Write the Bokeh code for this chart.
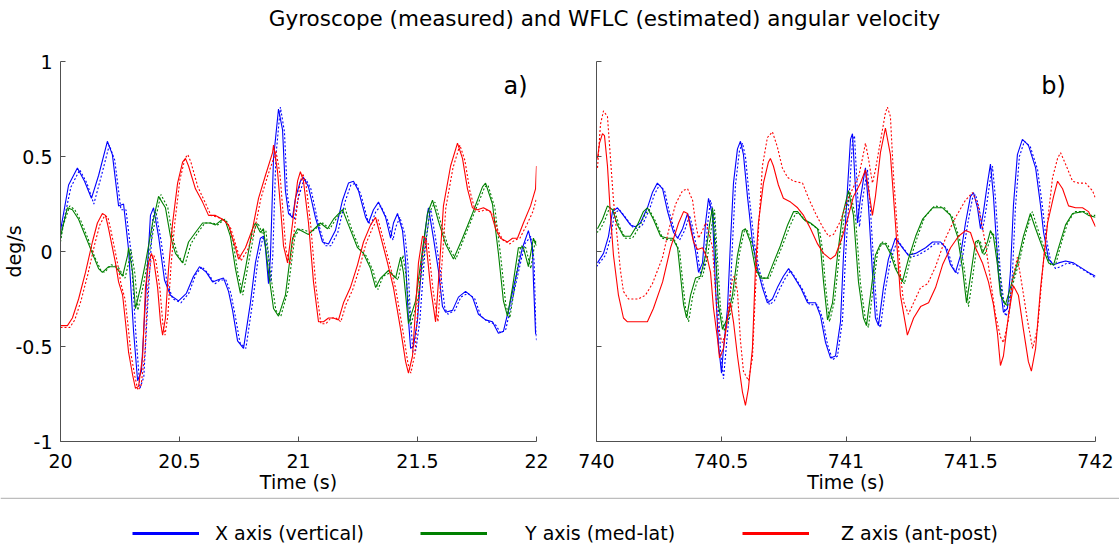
import math
from bokeh.plotting import figure
from bokeh.models import Range1d, FixedTicker, Label, Legend, LegendItem, Span, ColumnDataSource
from bokeh.layouts import column, row
from bokeh.embed import file_html
from bokeh.resources import INLINE
from bokeh.core.properties import value

FONT = "DejaVu Sans"

TITLE = "Gyroscope (measured) and WFLC (estimated) angular velocity"
SERIES_NAMES = ["X axis (vertical)", "Y axis (med-lat)", "Z axis (ant-post)"]
SERIES_COLORS = ["#0000ff", "#008000", "#ff0000"]

Y_TICKS = [-1, -0.5, 0, 0.5, 1]
Y_TICK_LABELS = ["-1", "-0.5", "0", "0.5", "1"]
A_X_TICKS = [20, 20.5, 21, 21.5, 22]
A_X_TICK_LABELS = ["20", "20.5", "21", "21.5", "22"]
B_X_TICKS = [740, 740.5, 741, 741.5, 742]
B_X_TICK_LABELS = ["740", "740.5", "741", "741.5", "742"]

# ---------------- panel a) : (time s, angular velocity) ----------------
A_X_MEAS = [(20.000,0.11),(20.034,0.35),(20.071,0.44),(20.101,0.37),(20.130,0.28),(20.160,0.40),(20.197,0.58),(20.218,0.51),(20.244,0.24),(20.265,0.25),(20.286,0.01),(20.307,-0.42),(20.324,-0.68),(20.340,-0.63),(20.357,-0.26),(20.378,0.19),(20.391,0.23),(20.412,0.08),(20.437,-0.15),(20.462,-0.23),(20.496,-0.26),(20.529,-0.22),(20.559,-0.13),(20.584,-0.08),(20.613,-0.11),(20.639,-0.16),(20.660,-0.15),(20.685,-0.14),(20.706,-0.21),(20.723,-0.31),(20.744,-0.47),(20.769,-0.51),(20.798,-0.27),(20.819,-0.06),(20.840,0.07),(20.853,0.08),(20.861,0.02),(20.874,-0.17),(20.882,-0.03),(20.895,0.49),(20.916,0.75),(20.933,0.64),(20.945,0.32),(20.958,0.20),(20.975,0.18),(20.987,0.28),(21.008,0.37),(21.021,0.39),(21.042,0.34),(21.071,0.18),(21.101,0.05),(21.126,0.04),(21.155,0.11),(21.185,0.27),(21.210,0.36),(21.231,0.37),(21.252,0.32),(21.282,0.18),(21.294,0.15),(21.315,0.22),(21.336,0.26),(21.366,0.18),(21.387,0.07),(21.399,0.15),(21.416,0.20),(21.437,0.11),(21.450,-0.05),(21.462,-0.36),(21.471,-0.51),(21.483,-0.50),(21.500,-0.36),(21.521,-0.01),(21.542,0.20),(21.546,0.23),(21.567,0.07),(21.588,-0.10),(21.605,-0.29),(21.618,-0.32),(21.647,-0.31),(21.672,-0.24),(21.702,-0.21),(21.731,-0.24),(21.756,-0.33),(21.786,-0.36),(21.815,-0.37),(21.840,-0.43),(21.861,-0.42),(21.882,-0.31),(21.912,-0.14),(21.941,0.02),(21.966,0.11),(21.983,0.02),(21.987,-0.15),(21.996,-0.43),(22.000,-0.44)]
A_X_EST = [(20.000,0.07),(20.012,0.15),(20.044,0.34),(20.081,0.43),(20.111,0.36),(20.140,0.25),(20.170,0.39),(20.205,0.56),(20.228,0.48),(20.254,0.22),(20.275,0.22),(20.296,0.00),(20.317,-0.44),(20.334,-0.72),(20.350,-0.66),(20.367,-0.27),(20.388,0.18),(20.401,0.21),(20.422,0.06),(20.447,-0.16),(20.472,-0.25),(20.506,-0.27),(20.539,-0.22),(20.569,-0.12),(20.594,-0.08),(20.623,-0.12),(20.649,-0.17),(20.670,-0.15),(20.695,-0.15),(20.716,-0.22),(20.733,-0.33),(20.754,-0.48),(20.779,-0.51),(20.808,-0.26),(20.829,-0.05),(20.850,0.07),(20.863,0.06),(20.871,0.00),(20.884,-0.16),(20.892,-0.02),(20.905,0.50),(20.924,0.76),(20.941,0.63),(20.953,0.30),(20.966,0.19),(20.983,0.17),(20.997,0.27),(21.018,0.36),(21.031,0.38),(21.052,0.33),(21.081,0.16),(21.111,0.03),(21.136,0.03),(21.165,0.10),(21.195,0.26),(21.220,0.35),(21.241,0.36),(21.262,0.30),(21.292,0.16),(21.304,0.14),(21.325,0.21),(21.346,0.24),(21.376,0.16),(21.397,0.06),(21.409,0.13),(21.426,0.18),(21.447,0.09),(21.460,-0.07),(21.472,-0.38),(21.481,-0.53),(21.493,-0.52),(21.510,-0.36),(21.531,0.00),(21.552,0.21),(21.556,0.22),(21.577,0.06),(21.598,-0.12),(21.615,-0.30),(21.628,-0.33),(21.657,-0.31),(21.682,-0.24),(21.712,-0.22),(21.741,-0.25),(21.766,-0.34),(21.796,-0.37),(21.825,-0.38),(21.850,-0.43),(21.871,-0.41),(21.892,-0.29),(21.922,-0.12),(21.951,0.04),(21.976,0.08),(21.990,-0.05),(21.996,-0.35),(22.000,-0.47)]
A_Y_MEAS = [(20.000,0.08),(20.029,0.23),(20.050,0.22),(20.076,0.17),(20.105,0.08),(20.134,-0.01),(20.160,-0.09),(20.176,-0.11),(20.202,-0.08),(20.231,-0.08),(20.261,-0.13),(20.282,-0.02),(20.286,0.02),(20.303,-0.11),(20.315,-0.30),(20.336,-0.19),(20.357,-0.06),(20.387,0.15),(20.412,0.29),(20.441,0.23),(20.462,0.08),(20.483,-0.01),(20.513,-0.06),(20.538,0.05),(20.567,0.10),(20.597,0.15),(20.630,0.15),(20.651,0.14),(20.681,0.17),(20.693,0.16),(20.714,0.08),(20.735,-0.09),(20.756,-0.22),(20.777,-0.09),(20.807,0.12),(20.819,0.15),(20.840,0.10),(20.853,0.12),(20.874,-0.11),(20.895,-0.30),(20.916,-0.34),(20.945,-0.23),(20.975,0.07),(20.996,0.12),(21.042,0.09),(21.092,0.15),(21.122,0.12),(21.147,0.17),(21.185,0.22),(21.210,0.14),(21.248,0.02),(21.273,-0.01),(21.303,-0.09),(21.324,-0.19),(21.345,-0.14),(21.378,-0.10),(21.408,-0.14),(21.429,-0.03),(21.441,-0.11),(21.462,-0.38),(21.492,-0.26),(21.521,0.01),(21.542,0.20),(21.563,0.27),(21.588,0.16),(21.618,0.04),(21.651,-0.04),(21.689,0.07),(21.731,0.20),(21.773,0.34),(21.786,0.36),(21.815,0.25),(21.840,-0.01),(21.861,-0.26),(21.878,-0.34),(21.899,-0.19),(21.924,0.02),(21.945,0.02),(21.966,-0.08),(21.987,0.07),(22.000,0.03)]
A_Y_EST = [(20.000,0.05),(20.012,0.14),(20.039,0.24),(20.060,0.22),(20.086,0.16),(20.115,0.07),(20.144,-0.03),(20.170,-0.10),(20.186,-0.11),(20.212,-0.07),(20.241,-0.08),(20.271,-0.14),(20.292,-0.03),(20.296,0.01),(20.313,-0.12),(20.325,-0.31),(20.346,-0.19),(20.367,-0.05),(20.397,0.16),(20.422,0.30),(20.451,0.23),(20.472,0.07),(20.493,-0.02),(20.523,-0.07),(20.548,0.04),(20.577,0.10),(20.607,0.15),(20.640,0.15),(20.661,0.14),(20.691,0.17),(20.703,0.15),(20.724,0.06),(20.745,-0.11),(20.766,-0.23),(20.787,-0.08),(20.817,0.12),(20.829,0.15),(20.850,0.09),(20.863,0.11),(20.884,-0.13),(20.905,-0.31),(20.926,-0.34),(20.955,-0.21),(20.985,0.08),(21.006,0.12),(21.052,0.10),(21.102,0.15),(21.132,0.12),(21.157,0.17),(21.195,0.23),(21.220,0.13),(21.258,0.01),(21.283,-0.02),(21.313,-0.10),(21.334,-0.20),(21.355,-0.13),(21.388,-0.11),(21.418,-0.15),(21.439,-0.02),(21.451,-0.12),(21.472,-0.39),(21.502,-0.25),(21.531,0.02),(21.552,0.21),(21.573,0.26),(21.598,0.15),(21.628,0.03),(21.661,-0.04),(21.699,0.08),(21.741,0.21),(21.783,0.34),(21.796,0.35),(21.825,0.23),(21.850,-0.03),(21.871,-0.28),(21.888,-0.35),(21.909,-0.18),(21.934,0.03),(21.955,0.02),(21.976,-0.09),(21.995,0.06),(22.000,0.04)]
A_Z_MEAS = [(20.000,-0.39),(20.029,-0.39),(20.050,-0.35),(20.076,-0.25),(20.105,-0.11),(20.134,0.05),(20.155,0.15),(20.176,0.20),(20.189,0.19),(20.202,0.12),(20.231,-0.06),(20.244,-0.16),(20.261,-0.23),(20.273,-0.37),(20.286,-0.53),(20.303,-0.65),(20.315,-0.72),(20.328,-0.71),(20.345,-0.55),(20.357,-0.19),(20.370,-0.06),(20.382,-0.01),(20.391,-0.04),(20.408,-0.19),(20.420,-0.37),(20.429,-0.44),(20.441,-0.35),(20.454,-0.09),(20.471,0.15),(20.492,0.36),(20.513,0.47),(20.525,0.49),(20.538,0.45),(20.567,0.33),(20.597,0.26),(20.622,0.19),(20.651,0.19),(20.681,0.17),(20.706,0.14),(20.735,0.02),(20.748,-0.04),(20.777,0.02),(20.807,0.12),(20.832,0.28),(20.861,0.40),(20.891,0.52),(20.895,0.56),(20.912,0.42),(20.924,0.24),(20.937,0.03),(20.954,-0.06),(20.975,0.15),(20.996,0.37),(21.008,0.42),(21.021,0.37),(21.042,0.15),(21.063,-0.16),(21.084,-0.37),(21.105,-0.37),(21.126,-0.35),(21.147,-0.35),(21.168,-0.36),(21.189,-0.27),(21.218,-0.19),(21.248,-0.07),(21.273,0.05),(21.303,0.14),(21.324,0.18),(21.345,0.08),(21.374,-0.06),(21.399,-0.19),(21.429,-0.41),(21.450,-0.58),(21.462,-0.64),(21.479,-0.55),(21.492,-0.30),(21.504,-0.06),(21.521,0.08),(21.534,0.07),(21.555,-0.19),(21.576,-0.37),(21.588,-0.16),(21.609,0.24),(21.639,0.45),(21.668,0.57),(21.689,0.49),(21.710,0.33),(21.731,0.23),(21.752,0.22),(21.777,0.23),(21.807,0.21),(21.828,0.12),(21.849,0.07),(21.878,0.05),(21.899,0.07),(21.920,0.07),(21.945,0.15),(21.975,0.24),(21.996,0.33),(22.000,0.45)]
A_Z_EST = [(20.000,-0.40),(20.039,-0.40),(20.060,-0.36),(20.086,-0.26),(20.115,-0.12),(20.144,0.04),(20.165,0.14),(20.186,0.19),(20.199,0.18),(20.212,0.11),(20.241,-0.07),(20.254,-0.17),(20.271,-0.25),(20.283,-0.38),(20.296,-0.54),(20.313,-0.66),(20.325,-0.73),(20.338,-0.71),(20.355,-0.53),(20.367,-0.18),(20.380,-0.05),(20.392,-0.02),(20.401,-0.05),(20.418,-0.20),(20.430,-0.38),(20.439,-0.44),(20.451,-0.34),(20.464,-0.08),(20.481,0.16),(20.502,0.38),(20.523,0.49),(20.535,0.51),(20.548,0.47),(20.577,0.34),(20.607,0.26),(20.632,0.19),(20.661,0.18),(20.691,0.16),(20.716,0.12),(20.745,0.00),(20.758,-0.05),(20.787,0.01),(20.817,0.12),(20.842,0.28),(20.871,0.40),(20.901,0.51),(20.905,0.53),(20.922,0.41),(20.934,0.22),(20.947,0.01),(20.964,-0.07),(20.985,0.14),(21.006,0.36),(21.018,0.41),(21.031,0.36),(21.052,0.13),(21.073,-0.18),(21.094,-0.38),(21.115,-0.38),(21.136,-0.35),(21.157,-0.35),(21.178,-0.37),(21.199,-0.28),(21.228,-0.20),(21.258,-0.08),(21.283,0.04),(21.313,0.13),(21.334,0.17),(21.355,0.07),(21.384,-0.07),(21.409,-0.20),(21.439,-0.42),(21.460,-0.59),(21.472,-0.64),(21.489,-0.54),(21.502,-0.29),(21.514,-0.07),(21.531,0.06),(21.544,0.05),(21.565,-0.20),(21.586,-0.37),(21.598,-0.15),(21.619,0.23),(21.649,0.44),(21.678,0.56),(21.699,0.48),(21.720,0.32),(21.741,0.22),(21.762,0.21),(21.787,0.22),(21.817,0.20),(21.838,0.11),(21.859,0.06),(21.888,0.04),(21.909,0.06),(21.930,0.07),(21.955,0.13),(21.985,0.21),(22.000,0.28)]

# ---------------- panel b) ----------------
B_X_MEAS = [(740.004,-0.06),(740.028,-0.01),(740.048,0.08),(740.064,0.21),(740.084,0.23),(740.108,0.19),(740.136,0.14),(740.156,0.13),(740.176,0.15),(740.204,0.23),(740.224,0.31),(740.244,0.36),(740.265,0.33),(740.285,0.21),(740.309,0.10),(740.325,0.07),(740.345,0.12),(740.365,0.20),(740.377,0.14),(740.397,0.00),(740.409,-0.11),(740.425,-0.06),(740.437,0.15),(740.449,0.28),(740.465,0.19),(740.477,-0.19),(740.489,-0.49),(740.501,-0.64),(740.509,-0.51),(740.525,-0.30),(740.537,0.05),(740.549,0.36),(740.565,0.54),(740.577,0.58),(740.589,0.51),(740.605,0.29),(740.625,0.05),(740.645,-0.09),(740.665,-0.19),(740.685,-0.27),(740.705,-0.25),(740.725,-0.19),(740.749,-0.13),(740.770,-0.09),(740.790,-0.13),(740.818,-0.19),(740.846,-0.27),(740.878,-0.27),(740.898,-0.34),(740.918,-0.48),(740.938,-0.56),(740.958,-0.55),(740.978,-0.37),(740.990,-0.02),(741.006,0.33),(741.018,0.59),(741.026,0.62),(741.038,0.33),(741.046,0.15),(741.058,0.28),(741.070,0.38),(741.078,0.44),(741.090,0.24),(741.106,-0.11),(741.118,-0.35),(741.130,-0.39),(741.150,-0.19),(741.170,-0.04),(741.198,0.07),(741.226,0.02),(741.250,-0.02),(741.279,-0.01),(741.319,0.02),(741.347,0.05),(741.379,0.05),(741.399,0.02),(741.419,-0.07),(741.439,-0.11),(741.459,-0.02),(741.479,0.15),(741.499,0.29),(741.511,0.31),(741.527,0.23),(741.539,0.12),(741.551,0.21),(741.567,0.36),(741.579,0.46),(741.591,0.29),(741.611,-0.11),(741.631,-0.32),(741.647,-0.30),(741.659,-0.11),(741.671,0.24),(741.687,0.51),(741.707,0.59),(741.731,0.56),(741.760,0.44),(741.780,0.24),(741.792,0.10),(741.812,-0.04),(741.832,-0.07),(741.852,-0.06),(741.880,-0.05),(741.912,-0.06),(741.948,-0.09),(741.972,-0.11),(742.000,-0.13)]
B_X_EST = [(740.000,-0.08),(740.012,-0.06),(740.036,-0.02),(740.056,0.07),(740.072,0.20),(740.092,0.22),(740.116,0.18),(740.144,0.13),(740.164,0.12),(740.184,0.14),(740.212,0.22),(740.232,0.30),(740.252,0.35),(740.273,0.32),(740.293,0.20),(740.317,0.09),(740.333,0.06),(740.353,0.11),(740.373,0.19),(740.385,0.13),(740.405,-0.01),(740.417,-0.12),(740.433,-0.07),(740.445,0.14),(740.457,0.27),(740.473,0.17),(740.485,-0.21),(740.497,-0.52),(740.509,-0.67),(740.517,-0.55),(740.533,-0.31),(740.545,0.04),(740.557,0.35),(740.573,0.53),(740.585,0.57),(740.597,0.50),(740.613,0.28),(740.633,0.04),(740.653,-0.10),(740.673,-0.20),(740.693,-0.28),(740.713,-0.26),(740.733,-0.20),(740.757,-0.14),(740.778,-0.10),(740.798,-0.14),(740.826,-0.20),(740.854,-0.28),(740.886,-0.28),(740.906,-0.35),(740.926,-0.49),(740.946,-0.57),(740.966,-0.55),(740.986,-0.36),(740.998,-0.03),(741.014,0.32),(741.026,0.58),(741.034,0.61),(741.046,0.31),(741.054,0.13),(741.066,0.27),(741.078,0.37),(741.086,0.43),(741.098,0.22),(741.114,-0.13),(741.126,-0.36),(741.138,-0.40),(741.158,-0.20),(741.178,-0.05),(741.206,0.06),(741.234,0.01),(741.258,-0.03),(741.287,-0.02),(741.327,0.01),(741.355,0.04),(741.387,0.04),(741.407,0.01),(741.427,-0.08),(741.447,-0.12),(741.467,-0.03),(741.487,0.14),(741.507,0.28),(741.519,0.30),(741.535,0.22),(741.547,0.11),(741.559,0.20),(741.575,0.35),(741.587,0.45),(741.599,0.28),(741.619,-0.12),(741.639,-0.34),(741.655,-0.31),(741.667,-0.12),(741.679,0.23),(741.695,0.50),(741.715,0.58),(741.739,0.55),(741.768,0.43),(741.788,0.23),(741.800,0.09),(741.820,-0.05),(741.840,-0.09),(741.860,-0.08),(741.888,-0.06),(741.920,-0.07),(741.956,-0.10),(741.980,-0.12),(742.000,-0.14)]
B_Y_MEAS = [(740.004,0.12),(740.024,0.17),(740.044,0.24),(740.064,0.22),(740.084,0.14),(740.108,0.08),(740.136,0.08),(740.164,0.14),(740.188,0.21),(740.204,0.23),(740.228,0.17),(740.257,0.08),(740.285,0.07),(740.305,0.07),(740.325,0.02),(740.337,-0.13),(740.349,-0.28),(740.361,-0.35),(740.377,-0.23),(740.397,-0.14),(740.417,-0.13),(740.437,-0.02),(740.453,0.14),(740.465,0.23),(740.477,-0.02),(740.489,-0.28),(740.505,-0.41),(740.525,-0.35),(740.545,-0.23),(740.565,-0.02),(740.585,0.11),(740.597,0.12),(740.617,0.05),(740.637,-0.09),(740.657,-0.14),(740.685,-0.14),(740.709,-0.06),(740.737,0.03),(740.766,0.14),(740.790,0.21),(740.806,0.21),(740.830,0.17),(740.858,0.15),(740.886,0.12),(740.898,0.02),(740.910,-0.16),(740.926,-0.36),(740.946,-0.27),(740.966,-0.02),(740.986,0.19),(741.010,0.32),(741.030,0.19),(741.050,-0.16),(741.070,-0.35),(741.082,-0.39),(741.098,-0.23),(741.118,-0.02),(741.138,0.04),(741.158,0.04),(741.178,-0.01),(741.198,-0.09),(741.226,-0.16),(741.250,-0.04),(741.279,0.08),(741.307,0.17),(741.347,0.23),(741.387,0.23),(741.419,0.19),(741.447,0.08),(741.467,-0.09),(741.483,-0.27),(741.499,-0.13),(741.519,0.05),(741.531,0.06),(741.547,-0.01),(741.567,0.05),(741.579,0.11),(741.591,0.08),(741.607,-0.07),(741.619,-0.23),(741.639,-0.28),(741.659,-0.19),(741.687,-0.06),(741.711,0.08),(741.739,0.20),(741.760,0.12),(741.788,0.02),(741.812,-0.06),(741.832,-0.07),(741.852,0.02),(741.880,0.14),(741.908,0.20),(741.948,0.21),(741.972,0.19),(742.000,0.18)]
B_Y_EST = [(740.000,0.10),(740.012,0.11),(740.032,0.16),(740.052,0.23),(740.072,0.22),(740.092,0.13),(740.116,0.07),(740.144,0.07),(740.172,0.13),(740.196,0.20),(740.212,0.22),(740.236,0.16),(740.265,0.07),(740.293,0.06),(740.313,0.06),(740.333,0.00),(740.345,-0.15),(740.357,-0.30),(740.369,-0.37),(740.385,-0.24),(740.405,-0.15),(740.425,-0.13),(740.445,-0.03),(740.461,0.13),(740.473,0.22),(740.485,-0.04),(740.497,-0.30),(740.513,-0.42),(740.533,-0.35),(740.553,-0.22),(740.573,-0.01),(740.593,0.11),(740.605,0.11),(740.625,0.04),(740.645,-0.10),(740.665,-0.14),(740.693,-0.14),(740.717,-0.06),(740.745,0.03),(740.774,0.13),(740.798,0.20),(740.814,0.20),(740.838,0.16),(740.866,0.14),(740.894,0.11),(740.906,0.01),(740.918,-0.18),(740.934,-0.37),(740.954,-0.26),(740.974,-0.01),(740.994,0.19),(741.018,0.31),(741.038,0.18),(741.058,-0.17),(741.078,-0.36),(741.090,-0.40),(741.106,-0.22),(741.126,-0.01),(741.146,0.05),(741.166,0.04),(741.186,-0.02),(741.206,-0.10),(741.234,-0.17),(741.258,-0.04),(741.287,0.08),(741.315,0.18),(741.355,0.24),(741.395,0.23),(741.427,0.18),(741.455,0.07),(741.475,-0.10),(741.491,-0.29),(741.507,-0.14),(741.527,0.05),(741.539,0.05),(741.555,-0.02),(741.575,0.05),(741.587,0.10),(741.599,0.07),(741.615,-0.09),(741.627,-0.25),(741.647,-0.29),(741.667,-0.18),(741.695,-0.05),(741.719,0.09),(741.747,0.21),(741.768,0.12),(741.796,0.01),(741.820,-0.07),(741.840,-0.07),(741.860,0.03),(741.888,0.15),(741.916,0.21),(741.956,0.21),(741.980,0.19),(742.000,0.19)]
B_Z_MEAS = [(740.004,0.49),(740.012,0.57),(740.024,0.62),(740.032,0.61),(740.044,0.45),(740.056,0.19),(740.068,-0.02),(740.088,-0.23),(740.108,-0.35),(740.124,-0.37),(740.204,-0.37),(740.228,-0.30),(740.265,-0.16),(740.297,0.02),(740.329,0.15),(740.349,0.21),(740.365,0.20),(740.377,0.12),(740.389,0.05),(740.405,0.01),(740.425,0.02),(740.445,-0.04),(740.457,-0.11),(740.469,-0.30),(740.485,-0.46),(740.493,-0.56),(740.509,-0.51),(740.525,-0.35),(740.537,-0.27),(740.549,-0.37),(740.565,-0.55),(740.585,-0.74),(740.597,-0.81),(740.609,-0.72),(740.625,-0.51),(740.637,-0.09),(740.649,0.15),(740.669,0.36),(740.689,0.47),(740.697,0.49),(740.709,0.45),(740.729,0.35),(740.749,0.28),(740.778,0.26),(740.806,0.23),(740.830,0.19),(740.858,0.12),(740.886,0.04),(740.910,-0.01),(740.938,-0.04),(740.958,-0.02),(740.986,0.08),(741.010,0.19),(741.030,0.29),(741.058,0.36),(741.078,0.43),(741.090,0.33),(741.106,0.19),(741.118,0.29),(741.138,0.52),(741.158,0.65),(741.178,0.51),(741.198,0.15),(741.218,-0.23),(741.246,-0.44),(741.271,-0.35),(741.299,-0.29),(741.331,-0.27),(741.359,-0.19),(741.387,-0.07),(741.419,0.02),(741.451,0.08),(741.479,0.11),(741.499,0.10),(741.519,0.02),(741.547,-0.06),(741.571,-0.16),(741.591,-0.28),(741.607,-0.43),(741.619,-0.60),(741.631,-0.55),(741.651,-0.34),(741.671,-0.18),(741.691,-0.23),(741.711,-0.41),(741.731,-0.58),(741.743,-0.63),(741.760,-0.51),(741.780,-0.19),(741.808,0.15),(741.832,0.29),(741.848,0.37),(741.868,0.33),(741.892,0.24),(741.920,0.23),(741.948,0.23),(741.972,0.21),(742.000,0.13)]
B_Z_EST = [(740.004,0.44),(740.016,0.67),(740.028,0.74),(740.044,0.71),(740.056,0.49),(740.068,0.27),(740.084,0.06),(740.096,-0.10),(740.108,-0.21),(740.128,-0.25),(740.168,-0.25),(740.196,-0.23),(740.224,-0.17),(740.265,-0.03),(740.289,0.11),(740.317,0.25),(740.345,0.32),(740.365,0.33),(740.385,0.27),(740.397,0.15),(740.409,0.07),(740.425,0.11),(740.437,0.15),(740.449,0.11),(740.465,0.02),(740.477,-0.21),(740.489,-0.42),(740.505,-0.48),(740.517,-0.43),(740.529,-0.29),(740.545,-0.14),(740.553,-0.13),(740.565,-0.21),(740.577,-0.47),(740.589,-0.63),(740.609,-0.68),(740.625,-0.56),(740.637,-0.21),(740.649,0.11),(740.665,0.45),(740.685,0.60),(740.705,0.63),(740.725,0.55),(740.745,0.44),(740.766,0.39),(740.790,0.37),(740.826,0.36),(740.850,0.28),(740.878,0.20),(740.906,0.13),(740.930,0.08),(740.950,0.09),(740.978,0.16),(741.006,0.27),(741.030,0.34),(741.050,0.39),(741.066,0.49),(741.078,0.57),(741.090,0.49),(741.106,0.36),(741.118,0.43),(741.138,0.58),(741.158,0.73),(741.166,0.76),(741.178,0.71),(741.190,0.41),(741.206,0.11),(741.218,-0.12),(741.230,-0.26),(741.250,-0.33),(741.271,-0.27),(741.299,-0.19),(741.327,-0.17),(741.359,-0.08),(741.399,0.07),(741.439,0.18),(741.479,0.27),(741.507,0.31),(741.527,0.25),(741.539,0.18),(741.559,0.04),(741.579,-0.15),(741.599,-0.33),(741.619,-0.45),(741.631,-0.48),(741.651,-0.36),(741.667,-0.15),(741.687,-0.03),(741.707,-0.19),(741.727,-0.36),(741.748,-0.51),(741.768,-0.40),(741.788,-0.10),(741.808,0.16),(741.828,0.39),(741.848,0.49),(741.860,0.52),(741.880,0.46),(741.908,0.37),(741.932,0.36),(741.960,0.36),(741.988,0.32),(742.000,0.28)]


def style_axes(p, xticks, xlabels, ylabels, ylabel_text):
    p.xgrid.visible = False
    p.ygrid.visible = False
    p.outline_line_color = None
    p.background_fill_color = "white"
    p.border_fill_color = "white"
    for ax in (p.xaxis[0], p.yaxis[0]):
        ax.axis_line_color = "#505050"
        ax.axis_line_width = 1
        ax.major_tick_line_color = "#505050"
        ax.major_tick_in = 5
        ax.major_tick_out = 0
        ax.minor_tick_line_color = None
        ax.major_label_text_font = FONT
        ax.major_label_text_font_size = "19px"
        ax.major_label_text_color = "black"
        ax.axis_label_text_font = FONT
        ax.axis_label_text_font_size = "19px"
        ax.axis_label_text_font_style = "normal"
        ax.axis_label_text_color = "black"
    p.xaxis[0].ticker = FixedTicker(ticks=xticks)
    p.xaxis[0].major_label_overrides = {t: l for t, l in zip(xticks, xlabels)}
    p.xaxis[0].major_label_standoff = 12
    p.xaxis[0].axis_label = "Time (s)"
    p.xaxis[0].axis_label_standoff = 0
    p.yaxis[0].ticker = FixedTicker(ticks=Y_TICKS)
    p.yaxis[0].major_label_overrides = {t: l for t, l in zip(Y_TICKS, ylabels)}
    p.yaxis[0].major_label_standoff = 8
    if ylabel_text:
        p.yaxis[0].axis_label = ylabel_text
        p.yaxis[0].axis_label_standoff = -13


def add_series(p, meas, est, color):
    t, v = zip(*meas)
    p.line(list(t), list(v), line_color=color, line_width=1.1)
    te, ve = zip(*est)
    p.line(list(te), list(ve), line_color=color, line_width=1.1, line_dash="2 2")


# ---------------- title strip ----------------
ptitle = figure(width=1119, height=40, x_range=Range1d(0, 1), y_range=Range1d(0, 1),
                x_axis_type=None, y_axis_type=None, toolbar_location=None,
                output_backend="svg", min_border=0)
ptitle.outline_line_color = None
ptitle.xgrid.visible = False
ptitle.ygrid.visible = False
ptitle.add_layout(Label(x=604, y=22, x_units="screen", y_units="screen", text=TITLE,
                        text_align="center", text_baseline="middle",
                        text_font=FONT, text_font_size="21.5px", text_color="black"))

# ---------------- panel a ----------------
pa = figure(frame_width=476, frame_height=380, x_range=Range1d(20, 22), y_range=Range1d(-1, 1),
            toolbar_location=None, output_backend="svg",
            min_border_left=60, min_border_right=32, min_border_top=21, min_border_bottom=56)
style_axes(pa, A_X_TICKS, A_X_TICK_LABELS, Y_TICK_LABELS, "deg/s")
for meas, est, c in ((A_X_MEAS, A_X_EST, SERIES_COLORS[0]),
                     (A_Y_MEAS, A_Y_EST, SERIES_COLORS[1]),
                     (A_Z_MEAS, A_Z_EST, SERIES_COLORS[2])):
    add_series(pa, meas, est, c)
pa.add_layout(Label(x=455, y=356, x_units="screen", y_units="screen", text="a)",
                    text_align="center", text_baseline="middle",
                    text_font=FONT, text_font_size="24px", text_color="black"))

# ---------------- panel b ----------------
pb = figure(frame_width=499, frame_height=380, x_range=Range1d(740, 742), y_range=Range1d(-1, 1),
            toolbar_location=None, output_backend="svg",
            min_border_left=28, min_border_right=24, min_border_top=21, min_border_bottom=56)
style_axes(pb, B_X_TICKS, B_X_TICK_LABELS, ["", "", "", "", ""], None)
for meas, est, c in ((B_X_MEAS, B_X_EST, SERIES_COLORS[0]),
                     (B_Y_MEAS, B_Y_EST, SERIES_COLORS[1]),
                     (B_Z_MEAS, B_Z_EST, SERIES_COLORS[2])):
    add_series(pb, meas, est, c)
pb.add_layout(Label(x=457, y=356, x_units="screen", y_units="screen", text="b)",
                    text_align="center", text_baseline="middle",
                    text_font=FONT, text_font_size="24px", text_color="black"))

# ---------------- legend strip ----------------
pleg = figure(width=1119, height=49, x_range=Range1d(0, 1), y_range=Range1d(0, 1),
              x_axis_type=None, y_axis_type=None, toolbar_location=None,
              output_backend="svg", min_border=0)
pleg.outline_line_color = None
pleg.xgrid.visible = False
pleg.ygrid.visible = False
pleg.add_layout(Span(location=0.985, dimension="width", line_color="#bdbdbd", line_width=1.5))
LEG_X = [132, 420, 742]
LEG_STANDOFF = [16, 38, 32]
for name, c, lx, so in zip(SERIES_NAMES, SERIES_COLORS, LEG_X, LEG_STANDOFF):
    # legend-only renderer: a single undefined point, so nothing is drawn in the strip
    src = ColumnDataSource(data=dict(x=[0.5], y=[float("nan")]))
    r = pleg.line(x="x", y="y", source=src, line_color=c, line_width=3)
    leg = Legend(items=[LegendItem(label=value(name), renderers=[r])], location=(lx, 2),
                 glyph_width=67, glyph_height=22, label_height=22, label_standoff=so,
                 padding=0, margin=0, border_line_color=None, background_fill_alpha=0,
                 label_text_font=FONT, label_text_font_size="19px", label_text_color="black")
    pleg.add_layout(leg)

layout = column(ptitle, row(pa, pb), pleg)
open("out.html", "w").write(file_html(layout, INLINE))
